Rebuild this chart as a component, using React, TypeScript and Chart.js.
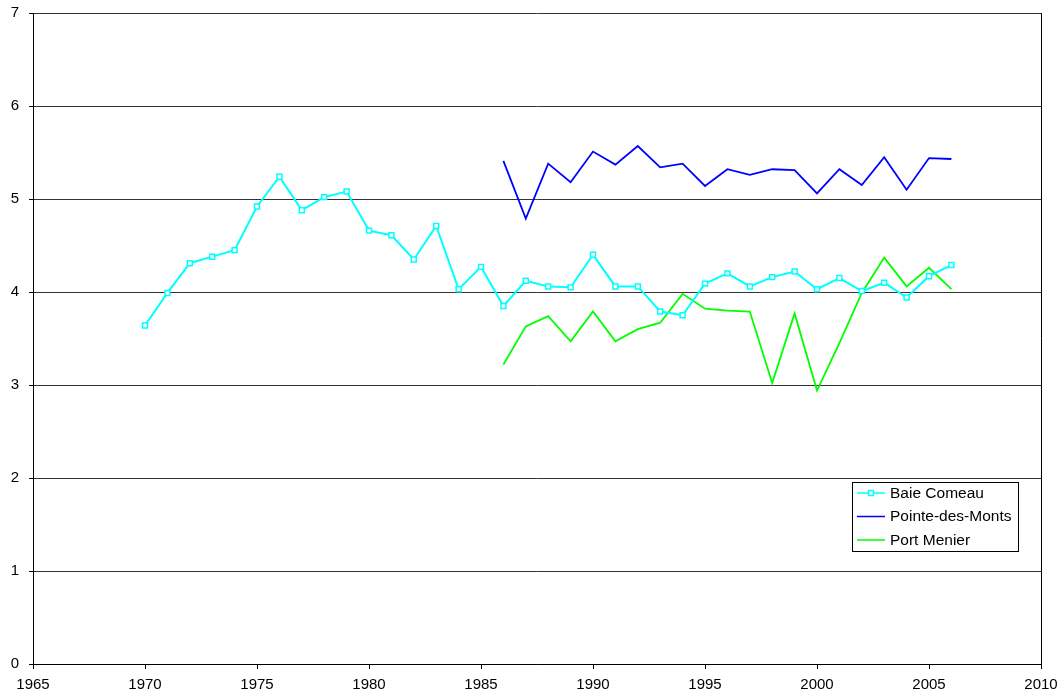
import React, { useEffect, useRef } from "react";
import { Chart, registerables } from "chart.js";

Chart.register(...registerables);

const baieYears = [1970, 1971, 1972, 1973, 1974, 1975, 1976, 1977, 1978, 1979, 1980, 1981, 1982, 1983, 1984, 1985, 1986, 1987, 1988, 1989, 1990, 1991, 1992, 1993, 1994, 1995, 1996, 1997, 1998, 1999, 2000, 2001, 2002, 2003, 2004, 2005, 2006];
const baieComeau = [3.64, 3.99, 4.31, 4.38, 4.45, 4.92, 5.24, 4.88, 5.02, 5.08, 4.66, 4.61, 4.35, 4.71, 4.03, 4.27, 3.85, 4.12, 4.06, 4.05, 4.40, 4.06, 4.06, 3.79, 3.75, 4.09, 4.20, 4.06, 4.16, 4.22, 4.03, 4.15, 4.01, 4.10, 3.94, 4.17, 4.29];

const laterYears = [1986, 1987, 1988, 1989, 1990, 1991, 1992, 1993, 1994, 1995, 1996, 1997, 1998, 1999, 2000, 2001, 2002, 2003, 2004, 2005, 2006];
const pointeDesMonts = [5.41, 4.79, 5.38, 5.18, 5.51, 5.37, 5.57, 5.34, 5.38, 5.14, 5.32, 5.26, 5.32, 5.31, 5.06, 5.32, 5.15, 5.45, 5.10, 5.44, 5.43];
const portMenier = [3.22, 3.63, 3.74, 3.47, 3.79, 3.47, 3.60, 3.67, 3.98, 3.82, 3.80, 3.79, 3.02, 3.77, 2.94, 3.45, 3.99, 4.37, 4.06, 4.26, 4.03];

const seriesNames = ["Baie Comeau", "Pointe-des-Monts", "Port Menier"];
const seriesColors = ["#00FFFF", "#0000FF", "#00FF00"];

const FONT = "'Liberation Sans', Arial, sans-serif";

const toPoints = (xs: number[], ys: number[]) => xs.map((x, i) => ({ x, y: ys[i] }));

const legendPlugin = {
  id: "boxLegend",
  afterDraw(chart: any) {
    const ctx = chart.ctx as CanvasRenderingContext2D;
    const bx = 852.5, by = 482.5, bw = 166, bh = 69;
    ctx.save();
    ctx.fillStyle = "#fff";
    ctx.fillRect(bx, by, bw, bh);
    ctx.strokeStyle = "#000";
    ctx.lineWidth = 1;
    ctx.strokeRect(bx, by, bw, bh);
    const rows = [493, 516.5, 540];
    chart.data.datasets.forEach((ds: any, i: number) => {
      const y = rows[i];
      ctx.strokeStyle = ds.borderColor;
      ctx.lineWidth = 1.5;
      ctx.beginPath();
      ctx.moveTo(857, y);
      ctx.lineTo(885, y);
      ctx.stroke();
      if (i === 0) {
        ctx.fillStyle = "#fff";
        ctx.fillRect(868.5, y - 2.5, 5, 5);
        ctx.strokeRect(868.5, y - 2.5, 5, 5);
      }
      ctx.fillStyle = "#000";
      ctx.font = `15.5px ${FONT}`;
      ctx.textBaseline = "middle";
      ctx.textAlign = "left";
      ctx.fillText(ds.label, 890, y + 0.5);
    });
    ctx.restore();
  },
};

export default function App() {
  const ref = useRef<HTMLCanvasElement | null>(null);

  useEffect(() => {
    document.body.style.margin = "0";
    const canvas = ref.current;
    if (!canvas) return;
    const chart = new Chart(canvas, {
      type: "line",
      data: {
        datasets: [
          {
            label: seriesNames[0],
            data: toPoints(baieYears, baieComeau),
            borderColor: seriesColors[0],
            backgroundColor: "#fff",
            borderWidth: 2,
            pointStyle: "rect",
            pointRadius: 3.5,
            pointBorderWidth: 1.5,
            pointBorderColor: seriesColors[0],
            pointBackgroundColor: "#fff",
            tension: 0,
          },
          {
            label: seriesNames[1],
            data: toPoints(laterYears, pointeDesMonts),
            borderColor: seriesColors[1],
            borderWidth: 1.8,
            pointRadius: 0,
            tension: 0,
          },
          {
            label: seriesNames[2],
            data: toPoints(laterYears, portMenier),
            borderColor: seriesColors[2],
            borderWidth: 1.8,
            pointRadius: 0,
            tension: 0,
          },
        ],
      },
      options: {
        animation: false,
        responsive: false,
        maintainAspectRatio: false,
        layout: { padding: { top: 13, right: 23, left: 0, bottom: 0 } },
        plugins: {
          legend: { display: false },
          tooltip: { enabled: false },
        },
        scales: {
          x: {
            type: "linear",
            min: 1965,
            max: 2010,
            ticks: {
              stepSize: 5,
              color: "#000",
              font: { family: FONT, size: 15 },
              padding: 7,
              callback: (v: any) => String(v),
            },
            grid: {
              drawOnChartArea: true,
              color: (c: any) => (c.tick && c.tick.value === 2010 ? "#000" : "rgba(0,0,0,0)"),
              tickColor: "#000",
              tickLength: 5,
              lineWidth: 1,
            },
            border: { display: true, color: "#000", width: 1 },
            afterFit: (s: any) => {
              s.height = 34;
              s.paddingLeft = 0;
              s.paddingRight = 0;
            },
          },
          y: {
            min: 0,
            max: 7,
            ticks: {
              stepSize: 1,
              color: "#000",
              font: { family: FONT, size: 15 },
              padding: 10,
            },
            grid: {
              color: "#333",
              tickColor: "#000",
              tickLength: 4,
              lineWidth: 1,
            },
            border: { display: true, color: "#000", width: 1 },
            afterFit: (s: any) => {
              s.width = 33;
              s.paddingTop = 0;
              s.paddingBottom = 0;
            },
          },
        },
      },
      plugins: [legendPlugin],
    });
    return () => chart.destroy();
  }, []);

  return (
    <div style={{ width: 1064, height: 698, background: "#fff" }}>
      <canvas ref={ref} width={1064} height={698} style={{ display: "block" }} />
    </div>
  );
}
